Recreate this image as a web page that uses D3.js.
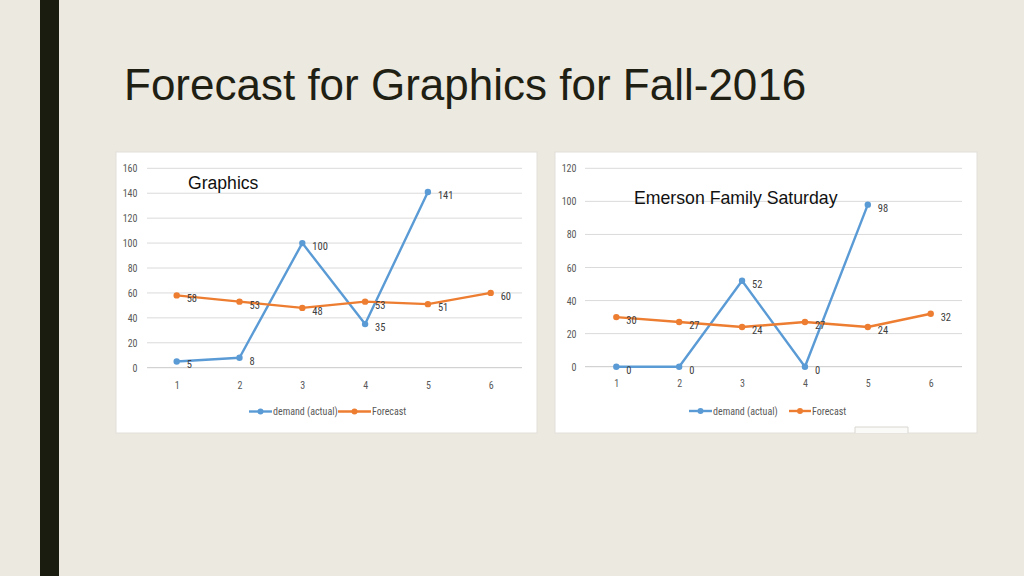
<!DOCTYPE html>
<html><head><meta charset="utf-8">
<script src="https://cdn.jsdelivr.net/npm/d3@7"></script>
<style>
html,body{margin:0;padding:0;background:#ECE9E1;}
svg{display:block;}
</style></head>
<body>
<svg id="c" width="1024" height="576"></svg>
<script>
const pageTitle = "Forecast for Graphics for Fall-2016";
const periods = [1, 2, 3, 4, 5, 6];
const seriesNames = ["demand (actual)", "Forecast"];

const graphicsTitle = "Graphics";
const graphicsDemand = [5, 8, 100, 35, 141];
const graphicsForecast = [58, 53, 48, 53, 51, 60];
const graphicsTicks = [0, 20, 40, 60, 80, 100, 120, 140, 160];

const emersonTitle = "Emerson Family Saturday";
const emersonDemand = [0, 0, 52, 0, 98];
const emersonForecast = [30, 27, 24, 27, 24, 32];
const emersonTicks = [0, 20, 40, 60, 80, 100, 120];

const BLUE = "#5B9BD5", ORANGE = "#ED7D31";
const svg = d3.select("#c");
const narrow = "'Liberation Sans Narrow','Roboto Condensed','Arial Narrow','Liberation Sans',sans-serif";

svg.append("rect").attr("x",0).attr("y",0).attr("width",1024).attr("height",576).attr("fill","#ECE9E1");
svg.append("rect").attr("x",40).attr("y",0).attr("width",19).attr("height",576).attr("fill","#1B1C10");
svg.append("text").attr("x",124).attr("y",100)
  .attr("font-family","'Liberation Sans',Arial,sans-serif").attr("font-size",44)
  .attr("fill","#1F1F14").text(pageTitle);

function drawChart(cfg){
  const g = svg.append("g");
  g.append("rect").attr("x",cfg.panel[0]).attr("y",cfg.panel[1])
    .attr("width",cfg.panel[2]).attr("height",cfg.panel[3])
    .attr("fill","#FFFFFF").attr("stroke","#E2E0DA").attr("stroke-width",1);
  const x = d3.scalePoint().domain(periods).range(cfg.xr);
  const y = d3.scaleLinear().domain([0, d3.max(cfg.ticks)]).range(cfg.yr);
  g.selectAll(".grid").data(cfg.ticks).join("line")
    .attr("x1",cfg.gx[0]).attr("x2",cfg.gx[1])
    .attr("y1",d=>y(d)).attr("y2",d=>y(d))
    .attr("stroke",d=>d===0?"#C8C8C8":"#DADADA").attr("stroke-width",1);
  const ya = d3.axisLeft(y).tickValues(cfg.ticks).tickSize(0).tickPadding(0);
  const yg = g.append("g").attr("transform",`translate(${cfg.ylabX},0)`).call(ya);
  yg.select(".domain").remove();
  yg.selectAll("text").attr("font-family",narrow).attr("font-size",10).attr("fill","#595959").attr("dy","0.35em");
  const xa = d3.axisBottom(x).tickSize(0).tickPadding(0);
  const xg = g.append("g").attr("transform",`translate(0,${cfg.xlabY})`).call(xa);
  xg.select(".domain").remove();
  xg.selectAll("text").attr("font-family",narrow).attr("font-size",10).attr("fill","#595959").attr("dy","0.35em");
  const line = d3.line().x((d,i)=>x(periods[i])).y(d=>y(d));
  [[cfg.demand,BLUE],[cfg.forecast,ORANGE]].forEach(([vals,col])=>{
    g.append("path").attr("d",line(vals)).attr("fill","none").attr("stroke",col)
      .attr("stroke-width",2.4).attr("stroke-linejoin","round");
    g.selectAll(null).data(vals).join("circle")
      .attr("cx",(d,i)=>x(periods[i])).attr("cy",d=>y(d)).attr("r",3.2).attr("fill",col);
    g.selectAll(null).data(vals).join("text")
      .attr("x",(d,i)=>x(periods[i])+10).attr("y",d=>y(d)+7)
      .attr("font-family",narrow).attr("font-size",10.5).attr("fill","#404040").text(d=>d);
  });
  g.append("text").attr("x",cfg.titlePos[0]).attr("y",cfg.titlePos[1])
    .attr("font-family","'Liberation Sans',Arial,sans-serif").attr("font-size",cfg.titleSize)
    .attr("fill","#111").text(cfg.title);
  const ly = cfg.legY;
  cfg.legend.forEach((L,i)=>{
    const col = i===0?BLUE:ORANGE;
    g.append("line").attr("x1",L[0]).attr("x2",L[1]).attr("y1",ly).attr("y2",ly)
      .attr("stroke",col).attr("stroke-width",2.4);
    g.append("circle").attr("cx",(L[0]+L[1])/2).attr("cy",ly).attr("r",3).attr("fill",col);
    g.append("text").attr("x",L[1]+1).attr("y",ly).attr("dy","0.35em")
      .attr("font-family",narrow).attr("font-size",10).attr("fill","#595959").text(seriesNames[i]);
  });
}

drawChart({
  panel:[116,152,421,281], xr:[176.7,490.7], yr:[367.7,168.3], gx:[147,522],
  ticks:graphicsTicks, ylabX:137.5, xlabY:385, demand:graphicsDemand, forecast:graphicsForecast,
  title:graphicsTitle, titlePos:[188,189], titleSize:17.6,
  legY:411.5, legend:[[249,272],[338,371]]
});
drawChart({
  panel:[555,152,422,281], xr:[616.3,930.7], yr:[366.7,168.3], gx:[585,962],
  ticks:emersonTicks, ylabX:576.5, xlabY:383, demand:emersonDemand, forecast:emersonForecast,
  title:emersonTitle, titlePos:[634,204], titleSize:17.7,
  legY:411, legend:[[689,712],[789,811]]
});
svg.append("path").attr("d","M855,433 L855,427 L908,427 L908,433").attr("fill","#FAFAF8").attr("stroke","#D8D6D0");
</script>
</body></html>
